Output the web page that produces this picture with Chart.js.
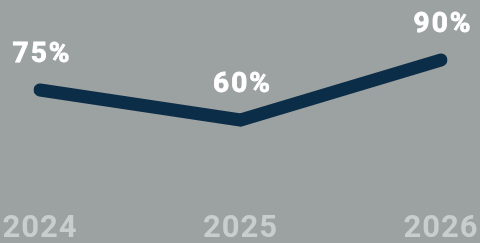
<!DOCTYPE html>
<html>
<head>
<meta charset="utf-8">
<script src="https://cdn.jsdelivr.net/npm/chart.js@4/dist/chart.umd.min.js"></script>
<style>
  html, body { margin: 0; padding: 0; background: #9ca1a1; }
  #wrap { width: 480px; height: 243px; position: relative; }
</style>
</head>
<body>
<div id="wrap"><canvas id="chart"></canvas></div>
<script>
// chart data
const years = ['2024', '2025', '2026'];
const shares = [75, 60, 90];
const shareLabels = ['75%', '60%', '90%'];

// draws the percent text above each point
const valueLabels = {
  id: 'valueLabels',
  afterDatasetsDraw(chart) {
    const ctx = chart.ctx;
    const meta = chart.getDatasetMeta(0);
    ctx.save();
    ctx.letterSpacing = '2px';
    ctx.font = 'bold 28px Roboto';
    ctx.fillStyle = '#ffffff';
    ctx.textAlign = 'center';
    ctx.textBaseline = 'alphabetic';
    // stroke a little to make the glyphs heavier
    ctx.strokeStyle = '#ffffff';
    ctx.lineWidth = 0.8;
    meta.data.forEach((pt, i) => {
      ctx.fillText(shareLabels[i], pt.x + 2, pt.y - 28);
      ctx.strokeText(shareLabels[i], pt.x + 2, pt.y - 28);
    });
    ctx.restore();
  }
};

const spacing = {
  id: 'spacing',
  beforeDraw(chart) {
    chart.ctx.letterSpacing = '1px';
  }
};

new Chart(document.getElementById('chart').getContext('2d'), {
  type: 'line',
  data: {
    labels: years,
    datasets: [{
      data: shares,
      borderColor: '#0c2d48',
      borderWidth: 13,
      borderCapStyle: 'round',
      borderJoinStyle: 'miter',
      tension: 0,
      pointRadius: 0,
      pointHoverRadius: 0,
      fill: false
    }]
  },
  options: {
    responsive: true,
    maintainAspectRatio: false,
    animation: false,
    layout: { padding: { left: 40, right: 39, top: 40, bottom: 0 } },
    plugins: {
      legend: { display: false },
      tooltip: { enabled: false }
    },
    scales: {
      x: {
        offset: false,
        grid: { display: false, drawTicks: false },
        border: { display: false },
        ticks: {
          color: '#c8cdcd',
          padding: 0,
          maxRotation: 0,
          font: { family: 'Roboto', size: 31, weight: 'bold' }
        },
        afterFit(axis) { axis.height = 32; }
      },
      y: {
        display: false,
        min: 14.5,
        max: 100
      }
    }
  },
  plugins: [valueLabels, spacing]
});
</script>
</body>
</html>
